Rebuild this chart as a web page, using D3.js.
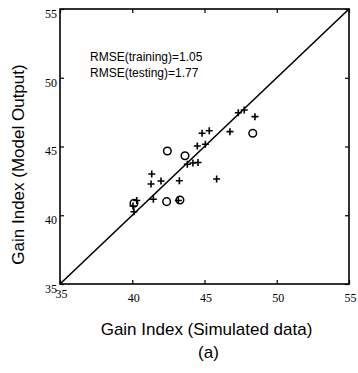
<!DOCTYPE html>
<html>
<head>
<meta charset="utf-8">
<script src="https://cdn.jsdelivr.net/npm/d3@7"></script>
<style>
  body { margin: 0; background: #fff; }
  svg { display: block; }
  .tick text { font-family: "Liberation Serif", "DejaVu Serif", serif; font-size: 12px; fill: #000; }
  .title { font-family: "Liberation Sans", Arial, sans-serif; fill: #000; }
</style>
</head>
<body>
<div id="chart"></div>
<script>
// tick values (same on both axes)
const tickVals = [35, 40, 45, 50, 55];

// training points (+) : simulated vs model output
const trainSim = [47.34, 47.75, 48.49, 46.76, 44.83, 45.33, 44.50, 45.06, 43.81, 44.20, 44.55,
                  41.35, 41.30, 41.99, 43.26, 45.84, 40.31, 41.46, 40.12, 43.19, 40.05];
const trainOut = [47.46, 47.65, 47.17, 46.08, 45.96, 46.15, 45.04, 45.16, 43.71, 43.80, 43.84,
                  43.00, 42.27, 42.49, 42.51, 42.64, 41.07, 41.16, 40.26, 41.07, 40.67];

// testing points (o)
const testSim = [42.43, 43.65, 48.34, 40.12, 42.38, 43.30];
const testOut = [44.67, 44.33, 45.96, 40.87, 40.99, 41.11];

const notes = ["RMSE(training)=1.05", "RMSE(testing)=1.77"];

const W = 358, H = 373;
const margin = { top: 9, right: 9, bottom: 89, left: 60 };
const width = W - margin.left - margin.right;
const height = H - margin.top - margin.bottom;

const svg = d3.select("#chart").append("svg")
  .attr("width", W)
  .attr("height", H);

const chart = svg.append("g")
  .attr("transform", "translate(" + margin.left + "," + margin.top + ")");

const x = d3.scaleLinear().domain([35, 55]).range([0, width]);
const y = d3.scaleLinear().domain([35, 55]).range([height, 0]);

// axes, ticks pointing inward
const xAxis = d3.axisBottom(x).tickValues(tickVals).tickSize(-4).tickPadding(9);
const yAxis = d3.axisLeft(y).tickValues(tickVals).tickSize(-4).tickPadding(3);

const gx = chart.append("g")
  .attr("transform", "translate(0," + height + ")")
  .call(xAxis);
gx.selectAll(".tick text").attr("dx", 1);
gx.selectAll(".tick text").filter(d => d === 35).attr("dy", "0.4em");

const gy = chart.append("g").call(yAxis);
gy.selectAll(".tick text").attr("dy", "0.7em");

chart.append("g").call(d3.axisTop(x).tickValues(tickVals).tickSize(-4).tickFormat(""));
chart.append("g")
  .attr("transform", "translate(" + width + ",0)")
  .call(d3.axisRight(y).tickValues(tickVals).tickSize(-4).tickFormat(""));

chart.selectAll(".domain").remove();
chart.selectAll(".tick line").attr("stroke", "#000").attr("stroke-width", 1.2);

// frame
chart.append("rect")
  .attr("width", width)
  .attr("height", height)
  .attr("fill", "none")
  .attr("stroke", "#000")
  .attr("stroke-width", 1.6);

// 1:1 line
chart.append("line")
  .attr("x1", x(35)).attr("y1", y(35))
  .attr("x2", x(55)).attr("y2", y(55))
  .attr("stroke", "#000")
  .attr("stroke-width", 1.6);

// training: plus markers
const s = 3.5;
chart.append("g").selectAll("path")
  .data(d3.range(trainSim.length))
  .join("path")
  .attr("d", i => {
    const cx = x(trainSim[i]), cy = y(trainOut[i]);
    return "M" + (cx - s) + "," + cy + "H" + (cx + s) + "M" + cx + "," + (cy - s) + "V" + (cy + s);
  })
  .attr("stroke", "#000")
  .attr("stroke-width", 1.6)
  .attr("fill", "none");

// testing: circles
chart.append("g").selectAll("circle")
  .data(d3.range(testSim.length))
  .join("circle")
  .attr("cx", i => x(testSim[i]))
  .attr("cy", i => y(testOut[i]))
  .attr("r", 3.8)
  .attr("fill", "none")
  .attr("stroke", "#000")
  .attr("stroke-width", 1.5);

// annotation
chart.selectAll("text.note")
  .data(notes)
  .join("text")
  .attr("class", "title note")
  .attr("x", 30)
  .attr("y", (d, i) => 52 + i * 16)
  .style("font-size", "12px")
  .text(d => d);

// axis titles
svg.append("text")
  .attr("class", "title")
  .attr("x", margin.left + width / 2 + 2)
  .attr("y", 335)
  .attr("text-anchor", "middle")
  .style("font-size", "17px")
  .text("Gain Index (Simulated data)");

svg.append("text")
  .attr("class", "title")
  .attr("x", margin.left + width / 2 + 4)
  .attr("y", 358)
  .attr("text-anchor", "middle")
  .style("font-size", "17px")
  .text("(a)");

svg.append("text")
  .attr("class", "title")
  .attr("transform", "translate(24," + (margin.top + height / 2 + 18) + ") rotate(-90)")
  .attr("text-anchor", "middle")
  .style("font-size", "17px")
  .text("Gain Index (Model Output)");
</script>
</body>
</html>
